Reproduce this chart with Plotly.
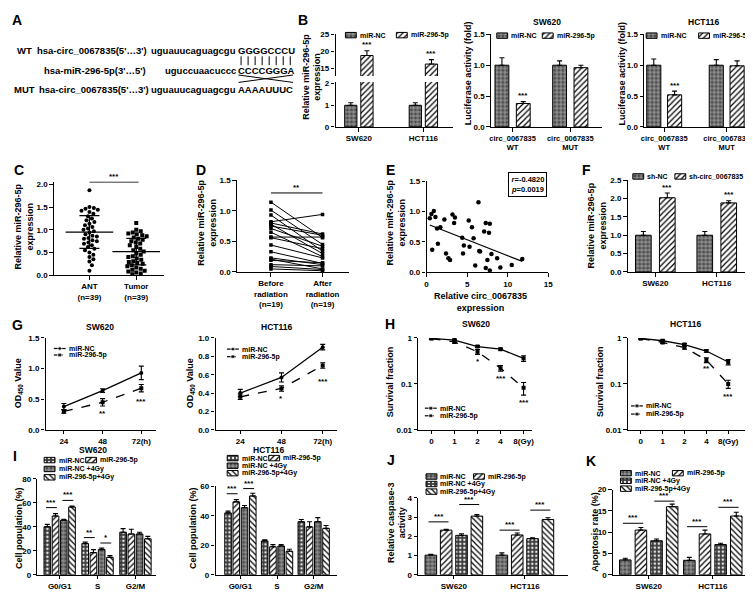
import numpy as np
import plotly.graph_objects as go

W, H = 753, 592
FONT = "Arial, Liberation Sans, sans-serif"

# ---------------- data ----------------
# B  miR-296-5p level after transfection
cells = ["SW620", "HCT116"]
mir_nc = [1.0, 1.0]
mir_nc_sd = [0.12, 0.12]
mir_296 = [18.8, 16.3]
mir_296_sd = [1.4, 1.3]

# B  luciferase reporter
luc_groups = ["circ_0067835<br>WT", "circ_0067835<br>MUT"]
luc_sw_nc = [1.0, 1.0]
luc_sw_nc_sd = [0.12, 0.07]
luc_sw_mir = [0.38, 0.96]
luc_sw_mir_sd = [0.03, 0.04]
luc_hct_nc = [1.0, 1.0]
luc_hct_nc_sd = [0.10, 0.09]
luc_hct_mir = [0.52, 0.99]
luc_hct_mir_sd = [0.06, 0.08]

# C  tissue expression
c_groups = ["ANT<br>(n=39)", "Tumor<br>(n=39)"]
ant = [1.87, 1.50, 1.48, 1.46, 1.44, 1.42, 1.39, 1.35, 1.30, 1.25, 1.21, 1.17, 1.13,
       1.10, 1.06, 1.03, 1.00, 0.97, 0.94, 0.90, 0.87, 0.85, 0.82, 0.80, 0.77, 0.75,
       0.72, 0.69, 0.66, 0.62, 0.58, 0.55, 0.50, 0.45, 0.40, 0.35, 0.30, 0.22, 0.10]
tumor = [1.15, 1.00, 0.97, 0.94, 0.92, 0.90, 0.88, 0.86, 0.83, 0.80, 0.78, 0.75, 0.72,
         0.70, 0.66, 0.62, 0.58, 0.55, 0.52, 0.48, 0.45, 0.42, 0.40, 0.37, 0.34, 0.31,
         0.29, 0.27, 0.25, 0.22, 0.20, 0.17, 0.14, 0.12, 0.10, 0.08, 0.06, 0.04, 0.02]
c_mean = [0.95, 0.52]
c_sd = [0.36, 0.29]

# D  before / after radiation
d_groups = ["Before<br>radiation<br>(n=19)", "After<br>radiation<br>(n=19)"]
before = [1.14, 1.01, 0.93, 0.82, 0.80, 0.78, 0.75, 0.71, 0.65, 0.57, 0.56, 0.44, 0.33,
          0.23, 0.21, 0.19, 0.12, 0.09, 0.05]
after = [0.56, 0.45, 0.34, 0.94, 0.62, 0.30, 0.60, 0.42, 0.25, 0.57, 0.38, 0.23, 0.14,
         0.12, 0.05, 0.15, 0.10, 0.04, 0.02]

# E  correlation
circ_expr = [0.4, 0.6, 0.9, 1.1, 0.7, 1.3, 1.7, 1.4, 2.2, 2.4, 2.7, 2.9, 3.2, 3.4, 3.5,
             4.4, 4.5, 4.6, 5.2, 5.3, 5.6, 5.8, 6.0, 6.4, 6.5, 6.6, 7.1, 7.3, 7.3, 7.8,
             7.7, 7.8, 8.0, 7.5, 8.7, 9.1, 10.5, 11.8]
mir_expr = [0.89, 0.96, 1.01, 0.91, 0.37, 0.72, 0.74, 0.47, 0.87, 0.31, 0.23, 0.20, 0.95,
            0.81, 0.90, 0.57, 0.31, 0.44, 0.85, 0.42, 0.74, 0.56, 0.11, 1.15, 0.35, 0.34,
            0.67, 0.81, 0.07, 0.80, 0.65, 0.03, 0.30, 0.20, 0.23, 0.08, 0.12, 0.22]

# F  knockdown
sh_nc = [1.0, 1.0]
sh_nc_sd = [0.10, 0.10]
sh_circ = [2.02, 1.88]
sh_circ_sd = [0.13, 0.06]

# G  CCK-8
hours = [24, 48, 72]
hour_labels = ["24", "48", "72(h)"]
od_sw_nc = [0.38, 0.64, 0.93]
od_sw_nc_sd = [0.05, 0.03, 0.11]
od_sw_mir = [0.30, 0.45, 0.68]
od_sw_mir_sd = [0.03, 0.06, 0.06]
od_hct_nc = [0.40, 0.57, 0.90]
od_hct_nc_sd = [0.04, 0.05, 0.03]
od_hct_mir = [0.36, 0.45, 0.70]
od_hct_mir_sd = [0.03, 0.03, 0.03]

# H  colony survival
doses = ["0", "1", "2", "4", "8(Gy)"]
sf_sw_nc = [0.98, 0.90, 0.65, 0.57, 0.36]
sf_sw_nc_sd = [0.04, 0.04, 0.03, 0.03, 0.05]
sf_sw_mir = [0.97, 0.82, 0.50, 0.22, 0.082]
sf_sw_mir_sd = [0.04, 0.05, 0.06, 0.03, 0.025]
sf_hct_nc = [0.98, 0.87, 0.72, 0.52, 0.30]
sf_hct_nc_sd = [0.03, 0.04, 0.04, 0.03, 0.04]
sf_hct_mir = [0.97, 0.80, 0.62, 0.33, 0.10]
sf_hct_mir_sd = [0.03, 0.04, 0.05, 0.04, 0.02]

# I  cell cycle
phases = ["G0/G1", "S", "G2/M"]
cc_sw_nc = [40, 26, 35.5]
cc_sw_nc_sd = [2, 1.2, 3]
cc_sw_mir = [49, 18.5, 34]
cc_sw_mir_sd = [2, 2.5, 4]
cc_sw_nc4 = [45.5, 21, 34]
cc_sw_nc4_sd = [0.8, 1.2, 1.5]
cc_sw_mir4 = [56.5, 14.5, 30]
cc_sw_mir4_sd = [0.8, 1.5, 2]
cc_hct_nc = [42, 23, 36]
cc_hct_nc_sd = [1.2, 0.8, 1.5]
cc_hct_mir = [49.5, 19, 32.5]
cc_hct_mir_sd = [1.5, 1.5, 3.5]
cc_hct_nc4 = [45.5, 19.5, 36]
cc_hct_nc4_sd = [1.5, 1, 2.8]
cc_hct_mir4 = [53.5, 16, 31.5]
cc_hct_mir4_sd = [1.8, 1.3, 2]

# J  caspase-3
casp_nc = [1.02, 1.02]
casp_nc_sd = [0.05, 0.12]
casp_mir = [2.32, 2.07]
casp_mir_sd = [0.04, 0.10]
casp_nc4 = [2.05, 1.88]
casp_nc4_sd = [0.08, 0.04]
casp_mir4 = [3.05, 2.87]
casp_mir4_sd = [0.08, 0.09]

# K  apoptosis
apo_nc = [3.5, 3.4]
apo_nc_sd = [0.4, 0.7]
apo_mir = [10.5, 9.6]
apo_mir_sd = [0.6, 0.9]
apo_nc4 = [8.0, 7.1]
apo_nc4_sd = [0.4, 0.3]
apo_mir4 = [16.0, 13.8]
apo_mir4_sd = [0.6, 0.9]

# ---------------- helpers ----------------
fig = go.Figure()

AX = dict(showline=True, linecolor="black", linewidth=1.3, ticks="outside",
          ticklen=3.5, tickwidth=1.2, tickcolor="black", showgrid=False,
          zeroline=False, fixedrange=True,
          tickfont=dict(family=FONT, size=8, color="black", weight="bold"))


def sfx(n):
    return "" if n == 1 else str(n)


def axes(n, box, xa, ya):
    x0, x1, top, bot = box
    fig.update_layout({
        "xaxis" + sfx(n): dict(AX, domain=[x0 / W, x1 / W], anchor="y" + sfx(n), **xa),
        "yaxis" + sfx(n): dict(AX, domain=[1 - bot / H, 1 - top / H], anchor="x" + sfx(n), **ya),
    })


def fnt(size):
    return dict(family=FONT, size=size, color="black", weight="bold")


def text(x, y, s, size=8, anchor="left", angle=0, **kw):
    fig.add_annotation(x=x / W, y=1 - y / H, xref="paper", yref="paper", text=s,
                       showarrow=False, xanchor=anchor, yanchor="middle",
                       textangle=angle, font=fnt(size), **kw)


STY = {
    "brick": ("#4d4d4d", "+", "#c4c4c4"),
    "dots": ("#3a3a3a", ".", "#e8e8e8"),
    "hatch": ("white", "/", "black"),
    "back": ("white", "\\", "black"),
}


def bar_marker(style):
    bg, shape, fg = STY[style]
    return dict(color=bg, line=dict(color="black", width=1),
                pattern=dict(shape=shape, fgcolor=fg, bgcolor=bg, size=4,
                             solidity=0.3, fillmode="replace"))


def bars(n, series, step, width):
    k = len(series)
    pos = lambda g, i: g + (i - (k - 1) / 2) * step
    for i, (vals, sd, style) in enumerate(series):
        fig.add_trace(go.Bar(
            x=[pos(g, i) for g in range(len(vals))], y=vals, width=width,
            marker=bar_marker(style),
            error_y=dict(type="data", array=sd, arrayminus=[0] * len(sd), symmetric=False,
                         color="black", thickness=1.1, width=2.5),
            xaxis="x" + sfx(n), yaxis="y" + sfx(n), showlegend=False, hoverinfo="skip"))
    return pos


def star(n, x, y, s, anchor="bottom"):
    fig.add_annotation(x=x, y=y, xref="x" + sfx(n), yref="y" + sfx(n), text=s,
                       showarrow=False, yanchor=anchor, font=fnt(8), borderpad=0)


def sig(n, x0, x1, y, s):
    fig.add_shape(type="line", xref="x" + sfx(n), yref="y" + sfx(n),
                  x0=x0, x1=x1, y0=y, y1=y, line=dict(color="black", width=1))
    star(n, (x0 + x1) / 2, y, s)


def line_series(n, x, y, sd, dash, symbol):
    fig.add_trace(go.Scatter(
        x=x, y=y, mode="lines+markers",
        line=dict(color="black", width=1.3, dash=dash),
        marker=dict(symbol=symbol, size=4, color="black"),
        error_y=dict(type="data", array=sd, color="black", thickness=1.1, width=2.5),
        xaxis="x" + sfx(n), yaxis="y" + sfx(n), showlegend=False, hoverinfo="skip"))


# overlay axis in pixel units, used for keys and the panel A drawing
fig.update_layout(
    xaxis17=dict(domain=[0, 1], range=[0, W], visible=False, fixedrange=True, anchor="y17"),
    yaxis17=dict(domain=[0, 1], range=[H, 0], visible=False, fixedrange=True, anchor="x17"),
)


def key_box(style, x0, yc, label, w=11, h=5.5):
    fig.add_trace(go.Bar(x=[x0 + w / 2], y=[h], base=[yc - h / 2], width=[w],
                         marker=bar_marker(style), xaxis="x17", yaxis="y17",
                         showlegend=False, hoverinfo="skip"))
    text(x0 + w + 2.5, yc, label, 7, borderpad=0)


def key_line(dash, symbol, x0, yc, label, w=12):
    fig.add_trace(go.Scatter(x=[x0, x0 + w / 2, x0 + w], y=[yc, yc, yc], mode="lines+markers",
                             line=dict(color="black", width=1.2, dash=dash),
                             marker=dict(symbol=symbol, size=[0, 4, 0], color="black"),
                             xaxis="x17", yaxis="y17", showlegend=False, hoverinfo="skip"))
    text(x0 + w + 2.5, yc, label, 7, borderpad=0)


def swarm(vals, sx, sy, d=4.4):
    vals = np.asarray(vals, float)
    offs = np.zeros(len(vals))
    placed = []
    cands = [0.0]
    for k in range(1, 60):
        cands += [k * 0.5, -k * 0.5]
    for idx in np.argsort(-vals):
        y = vals[idx] * sy
        for c in cands:
            if all((c - px) ** 2 + (y - py) ** 2 >= d * d for px, py in placed):
                break
        placed.append((c, y))
        offs[idx] = c / sx
    return offs


F1 = dict(tickformat=".1f")
TS = 9  # axis title size
BOT = 571.5  # baseline of the bottom row

# ---------------- A ----------------
text(6, 8, "A", 14, "center")
rows = [
    (39, "WT", 5, "hsa-circ_0067835(5'…3')", 25, "uguauucaguagcgu", "GGGGCCCU"),
    (59.5, "", 0, "hsa-miR-296-5p(3'…5')", 32, "uguccuaacuccc", "CCCCGGGA"),
    (79, "MUT", 2, "hsa-circ_0067835(5'…3')", 27, "uguauucaguagcgu", "AAAAUUUC"),
]
for y, tag, tx, name, nx, low, up in rows:
    if tag:
        text(tx, y, tag, 9.5, borderpad=0)
    text(nx, y, name, 9.5, borderpad=0)
    text(228.5, y, low, 9.5, "right", borderpad=0)
    text(228.5, y, up, 9.5, "left", borderpad=0)
pair_x, pair_y = [], []
for i in range(8):
    cx = 229 + 7.1 * (i + 0.5)
    pair_x += [cx, cx, None]
    pair_y += [45, 54, None]
fig.add_trace(go.Scatter(x=pair_x + [230, 285, None, 230, 285],
                         y=pair_y + [64, 71.5, None, 71.5, 64],
                         mode="lines", line=dict(color="black", width=1),
                         xaxis="x17", yaxis="y17", showlegend=False, hoverinfo="skip"))

# ---------------- B ----------------
text(295, 8, "B", 14, "center")
bx = dict(range=[-0.362, 1.463], tickvals=[0, 1], ticktext=cells)
axes(1, (328, 447, 71, 116.7), bx, dict(range=[0, 2.08], tickvals=[0, 1, 2]))
axes(2, (328, 447, 22.7, 65), dict(bx, visible=False),
     dict(range=[12.8, 25], tickvals=[15, 20, 25]))
for n in (1, 2):
    pos = bars(n, [(mir_nc, mir_nc_sd, "brick"), (mir_296, mir_296_sd, "hatch")], 0.25, 0.19)
for g in range(2):
    star(2, pos(g, 1), mir_296[g] + mir_296_sd[g] + 0.3, "***")
text(304, 66, "Relative miR-296-5p<br>expression", TS, "center", -90)
key_box("brick", 338, 23.5, "miR-NC")
key_box("hatch", 389.5, 23.5, "miR-296-5p")

for n, box, xr, step, width, nc, ncsd, mi, misd, title, tcx, ycx, kx in [
    (3, (485, 597, 22.7, 116.7), [-0.377, 1.544], 0.37, 0.24,
     luc_sw_nc, luc_sw_nc_sd, luc_sw_mir, luc_sw_mir_sd, "SW620", 542, 462, (491, 537)),
    (4, (640, 748, 22.7, 116.7), [-0.32, 1.39], 0.333, 0.226,
     luc_hct_nc, luc_hct_nc_sd, luc_hct_mir, luc_hct_mir_sd, "HCT116", 700, 618, (642, 695)),
]:
    axes(n, box,
         dict(range=xr, tickvals=[0, 1], ticktext=luc_groups, tickfont=fnt(7.5)),
         dict(F1, range=[0, 1.5], tickvals=[0, 0.5, 1.0, 1.5]))
    pos = bars(n, [(nc, ncsd, "brick"), (mi, misd, "hatch")], step, width)
    star(n, pos(0, 1), mi[0] + misd[0] + 0.01, "***")
    text(tcx, 10, title, 8.5, "center")
    text(ycx, 62, "Luciferase activity (fold)", TS, "center", -90)
    key_box("brick", kx[0], 24, "miR-NC")
    key_box("hatch", kx[1], 24, "miR-296-5p")

# ---------------- C ----------------
text(8, 160, "C", 14, "center")
axes(5, (43.3, 155, 172.2, 267.3),
     dict(range=[-0.76, 1.6], tickvals=[0, 1], ticktext=c_groups),
     dict(F1, range=[0, 2.06], tickvals=[0, 0.5, 1.0, 1.5, 2.0]))
for g, (vals, sym) in enumerate([(ant, "circle"), (tumor, "square")]):
    xs = g + swarm(vals, 47.3, 46.15)
    fig.add_trace(go.Scatter(x=xs, y=vals, mode="markers",
                             marker=dict(symbol=sym, size=4, color="black"),
                             xaxis="x5", yaxis="y5", showlegend=False, hoverinfo="skip"))
fig.add_trace(go.Scatter(x=[0, 1], y=c_mean, mode="markers",
                         marker=dict(symbol="line-ew", size=34, line=dict(width=1.3, color="black")),
                         error_y=dict(type="data", array=c_sd, width=10, thickness=1.3, color="black"),
                         xaxis="x5", yaxis="y5", showlegend=False, hoverinfo="skip"))
sig(5, 0, 1.05, 2.05, "***")
text(13, 218, "Relative miR-296-5p<br>expression", TS, "center", -90)

# ---------------- D ----------------
text(192, 160, "D", 14, "center")
axes(6, (228.3, 342, 170.7, 264),
     dict(range=[-0.66, 1.52], tickvals=[0, 1], ticktext=d_groups),
     dict(F1, range=[0, 1.5], tickvals=[0, 0.5, 1.0, 1.5]))
dx, dy = [], []
for b, a in zip(before, after):
    dx += [0, 1, None]
    dy += [b, a, None]
fig.add_trace(go.Scatter(x=dx, y=dy, mode="lines+markers",
                         line=dict(color="black", width=1),
                         marker=dict(symbol="square", size=3.5, color="black"),
                         xaxis="x6", yaxis="y6", showlegend=False, hoverinfo="skip"))
sig(6, 0, 1, 1.29, "**")
text(198, 214, "Relative miR-296-5p<br>expression", TS, "center", -90)

# ---------------- E ----------------
text(384, 160, "E", 14, "center")
axes(7, (420, 543, 171.7, 264.3),
     dict(range=[0, 15], tickvals=[0, 5, 10, 15]),
     dict(F1, range=[0, 1.5], tickvals=[0, 0.5, 1.0, 1.5]))
fig.add_trace(go.Scatter(x=circ_expr, y=mir_expr, mode="markers",
                         marker=dict(symbol="circle", size=4.5, color="black"),
                         xaxis="x7", yaxis="y7", showlegend=False, hoverinfo="skip"))
k, b0 = np.polyfit(circ_expr, mir_expr, 1)
fx = np.array([min(circ_expr), max(circ_expr)])
fig.add_trace(go.Scatter(x=fx, y=k * fx + b0, mode="lines", line=dict(color="black", width=1.2),
                         xaxis="x7", yaxis="y7", showlegend=False, hoverinfo="skip"))
text(522, 175, "<i>r</i>=-0.4820<br><i>p</i>=0.0019", 7.5, "center",
     bordercolor="black", borderwidth=1, borderpad=2, bgcolor="white")
text(389, 214, "Relative miR-296-5p<br>expression", TS, "center", -90)
text(475, 294, "Relative circ_0067835<br>expression", TS, "center")

# ---------------- F ----------------
text(582, 160, "F", 14, "center")
axes(8, (623.3, 745, 170.7, 264),
     dict(range=[-0.45, 1.51], tickvals=[0, 1], ticktext=cells),
     dict(F1, range=[0, 2.5], tickvals=[0, 0.5, 1.0, 1.5, 2.0, 2.5]))
pos = bars(8, [(sh_nc, sh_nc_sd, "brick"), (sh_circ, sh_circ_sd, "hatch")], 0.39, 0.255)
for g in range(2):
    star(8, pos(g, 1), sh_circ[g] + sh_circ_sd[g] + 0.01, "***")
text(592, 217, "Relative miR-296-5p<br>expression", TS, "center", -90)
key_box("brick", 628.5, 167, "sh-NC")
key_box("hatch", 671, 167, "sh-circ_0067835")

# ---------------- G ----------------
text(7, 318, "G", 14, "center")
for n, box, xr, yr, yt, nc, ncsd, mi, misd, stars, title, tcx, ycx, kx, ky in [
    (9, (35, 146.7, 331, 424.3), [12.7, 81.2], [0, 1.5], [0, 0.5, 1.0, 1.5],
     od_sw_nc, od_sw_nc_sd, od_sw_mir, od_sw_mir_sd,
     [(48, 0.27, "**"), (72, 0.47, "***")], "SW620", 90, 7, 43.3, (341.7, 348.3)),
    (10, (206.7, 330, 331, 424.3), [9.6, 80.6], [0, 1.0], [0, 0.2, 0.4, 0.6, 0.8, 1.0],
     od_hct_nc, od_hct_nc_sd, od_hct_mir, od_hct_mir_sd,
     [(48, 0.34, "*"), (72, 0.53, "***")], "HCT116", 268, 181, 218.3, (342.3, 350)),
]:
    axes(n, box, dict(range=xr, tickvals=hours, ticktext=hour_labels),
         dict(F1, range=yr, tickvals=yt))
    line_series(n, hours, nc, ncsd, "solid", "circle")
    line_series(n, hours, mi, misd, "dash", "square")
    for x, y, s in stars:
        star(n, x, y, s, "middle")
    text(tcx, 320, title, 8.5, "center")
    text(ycx, 377, "OD<sub>450</sub> Value", TS, "center", -90)
    key_line("solid", "circle", kx, ky[0], "miR-NC")
    key_line("dash", "square", kx, ky[1], "miR-296-5p")

# ---------------- H ----------------
text(383, 317, "H", 14, "center")
dose_x = list(range(len(doses)))
for n, box, xr, nc, ncsd, mi, misd, stars, title, tcx, ycx, kx, ky in [
    (11, (411.7, 526.7, 331, 424.3), [-0.57, 4.37],
     sf_sw_nc, sf_sw_nc_sd, sf_sw_mir, sf_sw_mir_sd,
     [(2, 0.31, "*"), (3, 0.13, "***"), (4, 0.039, "***")], "SW620", 470, 383, 418.3, (402.3, 410)),
    (12, (623.3, 741.7, 331, 424.3), [-0.6, 4.76],
     sf_hct_nc, sf_hct_nc_sd, sf_hct_mir, sf_hct_mir_sd,
     [(3, 0.22, "**"), (4, 0.054, "***")], "HCT116", 682, 596, 626.7, (400, 408.3)),
]:
    axes(n, box, dict(range=xr, tickvals=dose_x, ticktext=doses),
         dict(type="log", range=[-2, 0], tickvals=[0.01, 0.1, 1], ticktext=["0.01", "0.1", "1"]))
    line_series(n, dose_x, nc, ncsd, "solid", "square")
    line_series(n, dose_x, mi, misd, "dash", "square")
    for x, y, s in stars:
        star(n, x, np.log10(y), s, "middle")
    text(tcx, 317, title, 8.5, "center")
    text(ycx, 375, "Survival fraction", TS, "center", -90)
    key_line("solid", "square", kx, ky[0], "miR-NC")
    key_line("dash", "square", kx, ky[1], "miR-296-5p")

# ---------------- I ----------------
text(4, 451, "I", 14, "center")
for n, box, xr, yr, yt, series, step, width, sigs, title, tcx, ycx, kx, ky in [
    (13, (26.7, 146.7, 474, BOT), [-0.587, 2.546], [0, 80], [0, 20, 40, 60, 80],
     [(cc_sw_nc, cc_sw_nc_sd, "dots"), (cc_sw_mir, cc_sw_mir_sd, "hatch"),
      (cc_sw_nc4, cc_sw_nc4_sd, "brick"), (cc_sw_mir4, cc_sw_mir4_sd, "back")],
     0.2175, 0.175,
     [(0, 0, 1, 56, "***"), (0, 2, 3, 62, "***"), (1, 0, 1, 31, "**"), (1, 2, 3, 26.5, "*")],
     "SW620", 83, 8, (33.5, 75.5), (455, 464, 472.5)),
    (14, (206.7, 330, 481.7, BOT), [-0.68, 2.65], [0, 60], [0, 20, 40, 60],
     [(cc_hct_nc, cc_hct_nc_sd, "dots"), (cc_hct_mir, cc_hct_mir_sd, "hatch"),
      (cc_hct_nc4, cc_hct_nc4_sd, "brick"), (cc_hct_mir4, cc_hct_mir4_sd, "back")],
     0.225, 0.18,
     [(0, 0, 1, 55, "***"), (0, 2, 3, 58.5, "***")],
     "HCT116", 260, 184, (218.5, 260.5), (453, 460.7, 468.3)),
]:
    axes(n, box, dict(range=xr, tickvals=[0, 1, 2], ticktext=phases),
         dict(range=yr, tickvals=yt))
    pos = bars(n, series, step, width)
    for g, i, j, y, s in sigs:
        sig(n, pos(g, i) - 0.2 * width, pos(g, j) + 0.2 * width, y, s)
    text(tcx, 445, title, 8.5, "center")
    text(ycx, 524, "Cell population (%)", TS, "center", -90)
    key_box("dots", kx[0], ky[0], "miR-NC")
    key_box("hatch", kx[1], ky[0], "miR-296-5p")
    key_box("brick", kx[0], ky[1], "miR-NC +4Gy")
    key_box("back", kx[0], ky[2], "miR-296-5p+4Gy")

# ---------------- J / K ----------------
for n, letter, lpos, box, xr, yr, yt, series, step, width, sigs, ytitle, ycx, ycy, kx, ky in [
    (15, "J", (384, 455), (411.7, 563.3, 493.3, BOT), [-0.5, 1.611], [0, 4], [0, 1, 2, 3, 4],
     [(casp_nc, casp_nc_sd, "brick"), (casp_mir, casp_mir_sd, "hatch"),
      (casp_nc4, casp_nc4_sd, "dots"), (casp_mir4, casp_mir4_sd, "back")],
     0.216, 0.163,
     [(0, 0, 1, 2.75, "***"), (0, 2, 3, 3.65, "***"), (1, 0, 1, 2.32, "***"), (1, 2, 3, 3.36, "***")],
     "Relative caspase-3<br>activity", 390, 518, (419.5, 467.5), (471.7, 479.3, 487)),
    (16, "K", (586, 456), (608.3, 751.7, 485, BOT), [-0.56, 1.654], [0, 20], [0, 5, 10, 15, 20],
     [(apo_nc, apo_nc_sd, "brick"), (apo_mir, apo_mir_sd, "hatch"),
      (apo_nc4, apo_nc4_sd, "dots"), (apo_mir4, apo_mir4_sd, "back")],
     0.244, 0.18,
     [(0, 0, 1, 12.1, "***"), (0, 2, 3, 17.3, "***"), (1, 0, 1, 11.3, "***"), (1, 2, 3, 15.85, "***")],
     "Apoptosis rate (%)", 590, 528, (616, 668.5), (468.3, 476, 484)),
]:
    text(lpos[0], lpos[1], letter, 14, "center")
    axes(n, box, dict(range=xr, tickvals=[0, 1], ticktext=cells), dict(range=yr, tickvals=yt))
    pos = bars(n, series, step, width)
    for g, i, j, y, s in sigs:
        sig(n, pos(g, i) - 0.2 * width, pos(g, j) + 0.2 * width, y, s)
    text(ycx, ycy, ytitle, TS, "center", -90)
    key_box("brick", kx[0], ky[0], "miR-NC")
    key_box("hatch", kx[1], ky[0], "miR-296-5p")
    key_box("dots", kx[0], ky[1], "miR-NC +4Gy")
    key_box("back", kx[0], ky[2], "miR-296-5p+4Gy")

fig.update_layout(width=W, height=H, margin=dict(l=0, r=0, t=0, b=0),
                  paper_bgcolor="white", plot_bgcolor="rgba(0,0,0,0)",
                  barmode="overlay", showlegend=False, font=dict(family=FONT, color="black"))

fig.write_html("out.html")
